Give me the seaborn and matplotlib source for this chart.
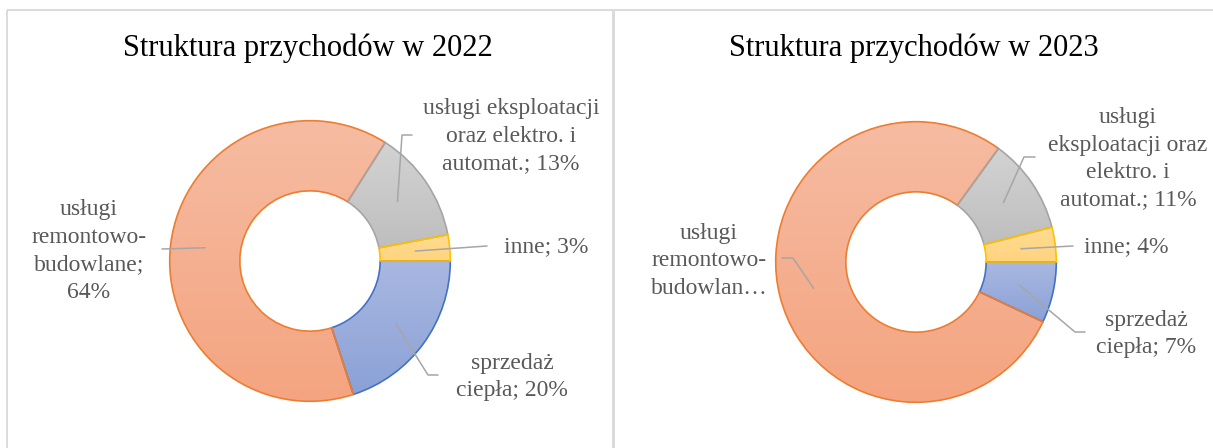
import numpy as np
import matplotlib
matplotlib.use("Agg")
import matplotlib.pyplot as plt
import seaborn as sns
from matplotlib.colors import LinearSegmentedColormap
from matplotlib.patches import Rectangle

# ---------------- data ----------------
categories = ["sprzedaż ciepła", "usługi remontowo-budowlane",
              "usługi eksploatacji oraz elektro. i automat.", "inne"]
values_2022 = [20, 64, 13, 3]
values_2023 = [7, 78, 11, 4]
labels_2022 = ["sprzedaż\nciepła; 20%", "usługi\nremontowo-\nbudowlane;\n64%",
               "usługi eksploatacji\noraz elektro. i\nautomat.; 13%", "inne; 3%"]
labels_2023 = ["sprzedaż\nciepła; 7%", "usługi\nremontowo-\nbudowlan…",
               "usługi\neksploatacji oraz\nelektro. i\nautomat.; 11%", "inne; 4%"]
titles = ["Struktura przychodów w 2022", "Struktura przychodów w 2023"]

# ---------------- style ----------------
sns.set_theme(style="white")
plt.rcParams["font.family"] = ["Liberation Serif", "DejaVu Serif"]

grad_colors = [("#A9B8E1", "#8BA1D6"),   # blue
               ("#F6BCA2", "#F4A480"),   # orange
               ("#D3D3D3", "#BEBEBE"),   # gray
               ("#FFDB92", "#FFD47F")]   # yellow
edge_colors = sns.color_palette(["#4472C4", "#ED7D31", "#A5A5A5", "#FFC000"])

W, H = 1213, 448
fig = plt.figure(figsize=(W / 100, H / 100), dpi=100)
fig.patch.set_facecolor("white")

R = 141
centers = [(310, 261), (916, 262)]

# layout of labels: (x, y) centre of text, leader elbow/end points
label_layout = [
    {  # 2022
        "text": [(512, 377), (89, 251), (511, 136), (546, 247)],
        "lead": [[(428, 375), (438, 375)], [(162, 249)],
                 [(402, 135), (412, 135)], [(487, 246)]],
    },
    {  # 2023
        "text": [(1146, 334), (709, 261), (1128, 159), (1126, 247)],
        "lead": [[(1075, 332), (1085, 332)], [(793, 258), (782, 258)],
                 [(1024, 157), (1035, 157)], [(1073, 246)]],
    },
]

overlay = fig.add_axes([0, 0, 1, 1], zorder=5)
overlay.set_xlim(0, W)
overlay.set_ylim(H, 0)
overlay.axis("off")
overlay.patch.set_alpha(0)

# panel borders
overlay.add_patch(Rectangle((6.5, 10.5), 606, 460, fill=False, ec="#D9D9D9", lw=1.3))
overlay.add_patch(Rectangle((614, 10.5), 620, 460, fill=False, ec="#D9D9D9", lw=1.3))

grad = np.linspace(0, 1, 256).reshape(-1, 1)

for k, (vals, labs, title) in enumerate(zip([values_2022, values_2023],
                                             [labels_2022, labels_2023], titles)):
    cx, cy = centers[k]
    ax = fig.add_axes([(cx - R) / W, (H - (cy + R)) / H, 2 * R / W, 2 * R / H], zorder=2)
    wedges, _ = ax.pie(vals, startangle=0, counterclock=False, radius=1,
                       colors=[c[0] for c in grad_colors],
                       wedgeprops=dict(width=0.5, linewidth=1.2))
    for w, (top, bot), ec in zip(wedges, grad_colors, edge_colors):
        w.set_facecolor("none")
        w.set_edgecolor(ec)
        ext = w.get_path().get_extents()
        cmap = LinearSegmentedColormap.from_list("g", [top, bot])
        im = ax.imshow(grad, cmap=cmap, extent=(ext.x0, ext.x1, ext.y0, ext.y1),
                       origin="upper", aspect="auto", zorder=w.get_zorder() - 0.5,
                       interpolation="bilinear")
        im.set_clip_path(w)
    ax.set_xlim(-1.005, 1.005)
    ax.set_ylim(-1.005, 1.005)
    ax.set_aspect("auto")
    ax.axis("off")

    # title
    overlay.text(cx - 2, 48, title, ha="center", va="center", fontsize=22, color="black")

    # labels and leader lines
    lay = label_layout[k]
    for w, lab, tpos, lead in zip(wedges, labs, lay["text"], lay["lead"]):
        mid = np.deg2rad((w.theta1 + w.theta2) / 2)
        sx = cx + 0.75 * R * np.cos(mid)
        sy = cy - 0.75 * R * np.sin(mid)
        pts = [(sx, sy)] + lead
        overlay.plot([p[0] for p in pts], [p[1] for p in pts], color="#A6A6A6", lw=1.1)
        overlay.text(tpos[0], tpos[1], lab, ha="center", va="center", fontsize=17,
                     color="#595959", linespacing=1.4, multialignment="center")

fig.savefig("out.png", dpi=100)
